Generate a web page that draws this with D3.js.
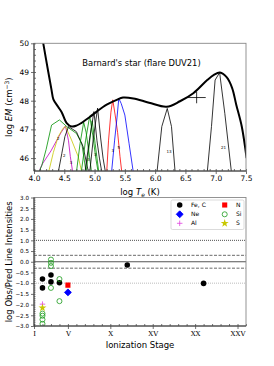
<!DOCTYPE html>
<html>
<head>
<meta charset="utf-8">
<script src="https://cdn.jsdelivr.net/npm/d3@7"></script>
<style>
  body { margin: 0; background: #fff; }
  svg { display: block; }
  text { font-family: "DejaVu Sans", sans-serif; }
</style>
</head>
<body>
<svg id="chart" width="274" height="366"></svg>
<script>
// ---- top panel: emission measure distribution ----
const emT   = [4.13, 4.153, 4.236, 4.29, 4.32, 4.40, 4.457, 4.54, 4.62, 4.70, 4.78, 4.925, 5.035, 5.20, 5.365, 5.47, 5.64, 5.90, 6.19, 6.41, 6.63, 6.86, 6.97, 7.07, 7.18, 7.27, 7.34, 7.43, 7.51];
const emVal = [50.3, 50.0, 49.0, 48.37, 48.05, 47.78, 47.6, 47.22, 47.1, 47.13, 47.22, 47.44, 47.62, 47.86, 48.03, 48.11, 48.08, 47.93, 47.79, 47.98, 48.26, 48.72, 48.9, 48.98, 48.82, 48.45, 47.85, 47.1, 46.0];

// EM loci of single lines: [log T, log EM]
const lociPoints = [
  [[4.09,45.5],[4.10,45.62],[4.14,45.8],[4.28,46.25],[4.37,46.6],[4.45,46.9],[4.52,47.12],[4.57,46.6],[4.60,46.05],[4.64,45.5]],
  [[4.24,45.5],[4.32,46.2],[4.40,46.75],[4.48,47.04],[4.52,47.1],[4.62,46.63],[4.73,46.05],[4.79,45.5]],
  [[4.09,45.55],[4.13,45.75],[4.20,46.3],[4.29,47.15],[4.42,47.33],[4.54,47.1],[4.70,46.86],[4.79,46.5],[4.86,45.5]],
  [[4.40,45.5],[4.46,46.17],[4.51,46.75],[4.57,47.1],[4.70,46.92],[4.81,46.4],[4.90,45.5]],
  [[4.70,45.5],[4.76,46.5],[4.82,47.25],[4.86,46.9],[4.92,46.0],[4.95,45.5]],
  [[4.78,45.5],[4.85,46.6],[4.92,47.47],[4.97,46.8],[5.02,46.0],[5.06,45.5]],
  [[4.86,45.5],[4.92,46.6],[4.96,47.3],[5.01,46.5],[5.07,45.5]],
  [[4.84,45.5],[4.92,46.7],[4.99,47.62],[5.04,46.6],[5.08,46.0],[5.12,45.5]],
  [[4.92,45.5],[4.98,46.7],[5.05,47.74],[5.10,46.7],[5.14,46.0],[5.18,45.5]],
  [[5.20,45.5],[5.23,46.6],[5.27,47.6],[5.30,48.03],[5.34,47.5],[5.38,46.9],[5.42,46.05],[5.45,45.5]],
  [[5.28,45.5],[5.33,46.6],[5.37,47.4],[5.40,48.08],[5.44,47.9],[5.50,47.5],[5.57,46.5],[5.64,45.5]],
  [[6.03,45.5],[6.11,47.1],[6.20,47.73],[6.27,47.1],[6.33,45.5]],
  [[6.86,45.5],[6.93,47.1],[6.99,48.72],[7.065,48.98],[7.08,48.72],[7.15,47.56],[7.26,45.5]]
];
const lociColors = ['#c000c0', '#c8c800', '#009000', '#000', '#009000', '#009000', '#009000', '#000', '#000', 'red', 'blue', '#000', '#000'];

// little ion-stage labels beside the loci
const lociLabT   = [4.40, 4.50, 4.61, 4.90, 5.01, 5.30, 5.40, 6.23, 7.13];
const lociLabEM  = [46.63, 46.05, 45.78, 45.91, 46.07, 46.2, 46.33, 46.19, 46.32];
const lociLabTxt = ['2', '2', '3', '3', '3', '3', '5', '13', '21'];

// single point with error bars
const crossT = 6.685, crossEM = 48.11, crossdT = 0.15, crossdEM = 0.2;

// ---- bottom panel: obs/pred ratios ----
const feStage = [2, 2, 3, 3, 4, 12, 21];
const feRatio = [-0.81, -1.22, -0.62, -0.94, -0.98, -0.15, -1.01];
const nStage  = [5];
const nRatio  = [-1.09];
const neStage = [5];
const neRatio = [-1.43];
const siStage = [3, 3, 3, 3, 4, 4, 2, 2, 2, 2];
const siRatio = [0.1, -0.05, -0.2, -1.22, -0.81, -1.84, -2.42, -2.52, -2.7, -2.9];
const alStage = [2];
const alRatio = [-1.98];
const sStage  = [2];
const sRatio  = [-2.15];

const stageTicks  = [1, 5, 10, 15, 20, 25];
const stageLabels = ['I', 'V', 'X', 'XV', 'XX', 'XXV'];

const svg = d3.select('#chart');
const left = 34, right = 246;
const top1 = 43.3, bot1 = 171;
const top2 = 197.5, bot2 = 326;

const x1 = d3.scaleLinear().domain([4.0, 7.5]).range([left, right]);
const y1 = d3.scaleLinear().domain([45.55, 50]).range([bot1, top1]);
const x2 = d3.scaleLinear().domain([1, 26]).range([left, right]);
const y2 = d3.scaleLinear().domain([-3, 3]).range([bot2, top2]);

const defs = svg.append('defs');
defs.append('clipPath').attr('id', 'clip1').append('rect')
  .attr('x', left).attr('y', top1).attr('width', right - left).attr('height', bot1 - top1);
defs.append('clipPath').attr('id', 'clip2').append('rect')
  .attr('x', left).attr('y', top2).attr('width', right - left).attr('height', bot2 - top2);

// helper to style an axis group
function styleAxis(g, fs, family) {
  g.select('.domain').remove();
  g.selectAll('line').attr('stroke', '#333').attr('stroke-width', 0.7);
  g.selectAll('text').attr('font-size', fs).attr('fill', '#000')
    .style('font-family', family || '"DejaVu Sans", sans-serif');
}

// ===== top panel =====
const p1 = svg.append('g').attr('clip-path', 'url(#clip1)');

const locusLine = d3.line().x(d => x1(d[0])).y(d => y1(d[1]));
p1.selectAll('.locus')
  .data(lociPoints)
  .enter().append('path')
  .attr('class', 'locus')
  .attr('d', locusLine)
  .attr('fill', 'none')
  .attr('stroke', (d, i) => lociColors[i])
  .attr('stroke-width', 0.8);

p1.selectAll('.loclab')
  .data(lociLabTxt)
  .enter().append('text')
  .attr('x', (d, i) => x1(lociLabT[i]))
  .attr('y', (d, i) => y1(lociLabEM[i]))
  .attr('text-anchor', 'middle')
  .attr('font-size', 4)
  .text(d => d);

const emLine = d3.line()
  .x((d, i) => x1(emT[i]))
  .y((d, i) => y1(emVal[i]))
  .curve(d3.curveCatmullRom.alpha(0.5));
p1.append('path')
  .attr('d', emLine(emT))
  .attr('fill', 'none')
  .attr('stroke', '#000')
  .attr('stroke-width', 2);

// error cross
p1.append('line')
  .attr('x1', x1(crossT - crossdT)).attr('x2', x1(crossT + crossdT))
  .attr('y1', y1(crossEM)).attr('y2', y1(crossEM))
  .attr('stroke', '#000').attr('stroke-width', 0.8);
p1.append('line')
  .attr('x1', x1(crossT)).attr('x2', x1(crossT))
  .attr('y1', y1(crossEM - crossdEM)).attr('y2', y1(crossEM + crossdEM))
  .attr('stroke', '#000').attr('stroke-width', 0.8);

// axes top
const ax1 = svg.append('g').attr('transform', `translate(0,${bot1})`)
  .call(d3.axisBottom(x1).tickValues(d3.range(4.0, 7.51, 0.5)).tickFormat(d3.format('.1f')).tickSize(3).tickPadding(2));
styleAxis(ax1, 7.5);
const ax1m = svg.append('g').attr('transform', `translate(0,${bot1})`)
  .call(d3.axisBottom(x1).tickValues(d3.range(4.0, 7.51, 0.1)).tickFormat('').tickSize(-2));
styleAxis(ax1m, 7.5);
const ay1 = svg.append('g').attr('transform', `translate(${left},0)`)
  .call(d3.axisLeft(y1).tickValues([46, 47, 48, 49, 50]).tickFormat(d3.format('d')).tickSize(3).tickPadding(2));
styleAxis(ay1, 7.5);
const ay1m = svg.append('g').attr('transform', `translate(${left},0)`)
  .call(d3.axisLeft(y1).tickValues(d3.range(45.6, 50.01, 0.2)).tickFormat('').tickSize(-2));
styleAxis(ay1m, 7.5);

// frame top
svg.append('rect').attr('x', left).attr('y', top1).attr('width', right - left).attr('height', bot1 - top1)
  .attr('fill', 'none').attr('stroke', '#888').attr('stroke-width', 0.9);
svg.append('line').attr('x1', left).attr('x2', left).attr('y1', top1).attr('y2', bot1).attr('stroke', '#333');
svg.append('line').attr('x1', left).attr('x2', right).attr('y1', bot1).attr('y2', bot1).attr('stroke', '#333');

svg.append('text').attr('x', 141.5).attr('y', 66).attr('text-anchor', 'middle')
  .attr('font-size', 8.4).text("Barnard's star (flare DUV21)");

const xl1 = svg.append('text').attr('x', 140).attr('y', 195).attr('text-anchor', 'middle').attr('font-size', 8.5);
xl1.append('tspan').text('log ');
xl1.append('tspan').attr('font-style', 'italic').text('T');
xl1.append('tspan').attr('font-style', 'italic').attr('font-size', 6).attr('dy', 2).text('e');
xl1.append('tspan').attr('dy', -2).text(' (K)');

const yl1 = svg.append('text').attr('transform', `translate(12,${(top1 + bot1) / 2}) rotate(-90)`)
  .attr('text-anchor', 'middle').attr('font-size', 8.5);
yl1.append('tspan').text('log ');
yl1.append('tspan').attr('font-style', 'italic').text('EM');
yl1.append('tspan').text(' (cm');
yl1.append('tspan').attr('font-size', 6).attr('dy', -3).text('\u22123');
yl1.append('tspan').attr('dy', 3).text(')');

// ===== bottom panel =====
const p2 = svg.append('g').attr('clip-path', 'url(#clip2)');
const refLines = [1.0, 0.3, -0.3, 0, -1.0];
const refDash  = ['1,1', '3,1.5', '3,1.5', null, '1,1'];
const refColor = ['#222', '#444', '#444', '#555', '#aaa'];
p2.selectAll('.ref')
  .data(refLines)
  .enter().append('line')
  .attr('x1', left).attr('x2', right)
  .attr('y1', d => y2(d)).attr('y2', d => y2(d))
  .attr('stroke', (d, i) => refColor[i])
  .attr('stroke-width', (d, i) => i === 3 ? 1 : 0.8)
  .attr('stroke-dasharray', (d, i) => refDash[i]);

const plusSym = {
  draw(ctx, size) {
    const r = Math.sqrt(size) / 2;
    ctx.moveTo(-r, 0); ctx.lineTo(r, 0);
    ctx.moveTo(0, -r); ctx.lineTo(0, r);
  }
};

const groups = [
  { st: feStage, v: feRatio, type: d3.symbolCircle, size: 24, fill: '#000', stroke: 'none', rot: 0 },
  { st: nStage,  v: nRatio,  type: d3.symbolSquare, size: 26, fill: 'red', stroke: 'none', rot: 0 },
  { st: neStage, v: neRatio, type: d3.symbolSquare, size: 24, fill: 'blue', stroke: 'blue', rot: 45 },
  { st: siStage, v: siRatio, type: d3.symbolCircle, size: 20, fill: 'none', stroke: '#1a9a1a', rot: 0 },
  { st: alStage, v: alRatio, type: plusSym, size: 30, fill: 'none', stroke: '#e040e0', rot: 0 },
  { st: sStage,  v: sRatio,  type: d3.symbolStar, size: 20, fill: '#c8c800', stroke: 'none', rot: 0 }
];

groups.forEach(gr => {
  p2.selectAll(null)
    .data(gr.st)
    .enter().append('path')
    .attr('d', d3.symbol().type(gr.type).size(gr.size))
    .attr('transform', (d, i) => `translate(${x2(d)},${y2(gr.v[i])}) rotate(${gr.rot})`)
    .attr('fill', gr.fill)
    .attr('stroke', gr.stroke)
    .attr('stroke-width', 0.8);
});

// axes bottom
const ax2 = svg.append('g').attr('transform', `translate(0,${bot2})`)
  .call(d3.axisBottom(x2).tickValues(stageTicks).tickFormat((d, i) => stageLabels[i]).tickSize(3).tickPadding(2));
styleAxis(ax2, 7, '"DejaVu Serif", serif');
const ax2m = svg.append('g').attr('transform', `translate(0,${bot2})`)
  .call(d3.axisBottom(x2).tickValues(d3.range(1, 26.01, 1)).tickFormat('').tickSize(-2));
styleAxis(ax2m, 7);
const ay2 = svg.append('g').attr('transform', `translate(${left},0)`)
  .call(d3.axisLeft(y2).tickValues(d3.range(-3, 3.01, 0.5)).tickFormat(d3.format('.1f')).tickSize(3).tickPadding(2));
styleAxis(ay2, 5.6);
const ay2m = svg.append('g').attr('transform', `translate(${left},0)`)
  .call(d3.axisLeft(y2).tickValues(d3.range(-3, 3.01, 0.1)).tickFormat('').tickSize(-1.5));
styleAxis(ay2m, 5.6);

svg.append('rect').attr('x', left).attr('y', top2).attr('width', right - left).attr('height', bot2 - top2)
  .attr('fill', 'none').attr('stroke', '#888').attr('stroke-width', 0.9);
svg.append('line').attr('x1', left).attr('x2', left).attr('y1', top2).attr('y2', bot2).attr('stroke', '#333');
svg.append('line').attr('x1', left).attr('x2', right).attr('y1', bot2).attr('y2', bot2).attr('stroke', '#333');

svg.append('text').attr('x', 140).attr('y', 348).attr('text-anchor', 'middle')
  .attr('font-size', 8.5).text('Ionization Stage');
svg.append('text').attr('transform', `translate(12,${(top2 + bot2) / 2}) rotate(-90)`)
  .attr('text-anchor', 'middle').attr('font-size', 8.5).text('log Obs/Pred Line Intensities');

// legend
const legNames = ['Fe, C', 'N', 'Ne', 'Si', 'Al', 'S'];
const legX = [179.7, 224.7], legY = [205, 214.3, 223.3];
const leg = svg.append('g');
leg.append('rect').attr('x', 171).attr('y', 200).attr('width', 73).attr('height', 29.5)
  .attr('rx', 1.5).attr('fill', '#fff').attr('fill-opacity', 0.85)
  .attr('stroke', '#ccc').attr('stroke-width', 0.7);
legNames.forEach((name, i) => {
  const gr = groups[i];
  const cx = legX[i % 2], cy = legY[Math.floor(i / 2)];
  leg.append('path')
    .attr('d', d3.symbol().type(gr.type).size(gr.size))
    .attr('transform', `translate(${cx},${cy}) rotate(${gr.rot})`)
    .attr('fill', gr.fill).attr('stroke', gr.stroke).attr('stroke-width', 0.8);
  leg.append('text').attr('x', cx + 11.3).attr('y', cy + 2.1)
    .attr('font-size', 6).text(name);
});
</script>
</body>
</html>
